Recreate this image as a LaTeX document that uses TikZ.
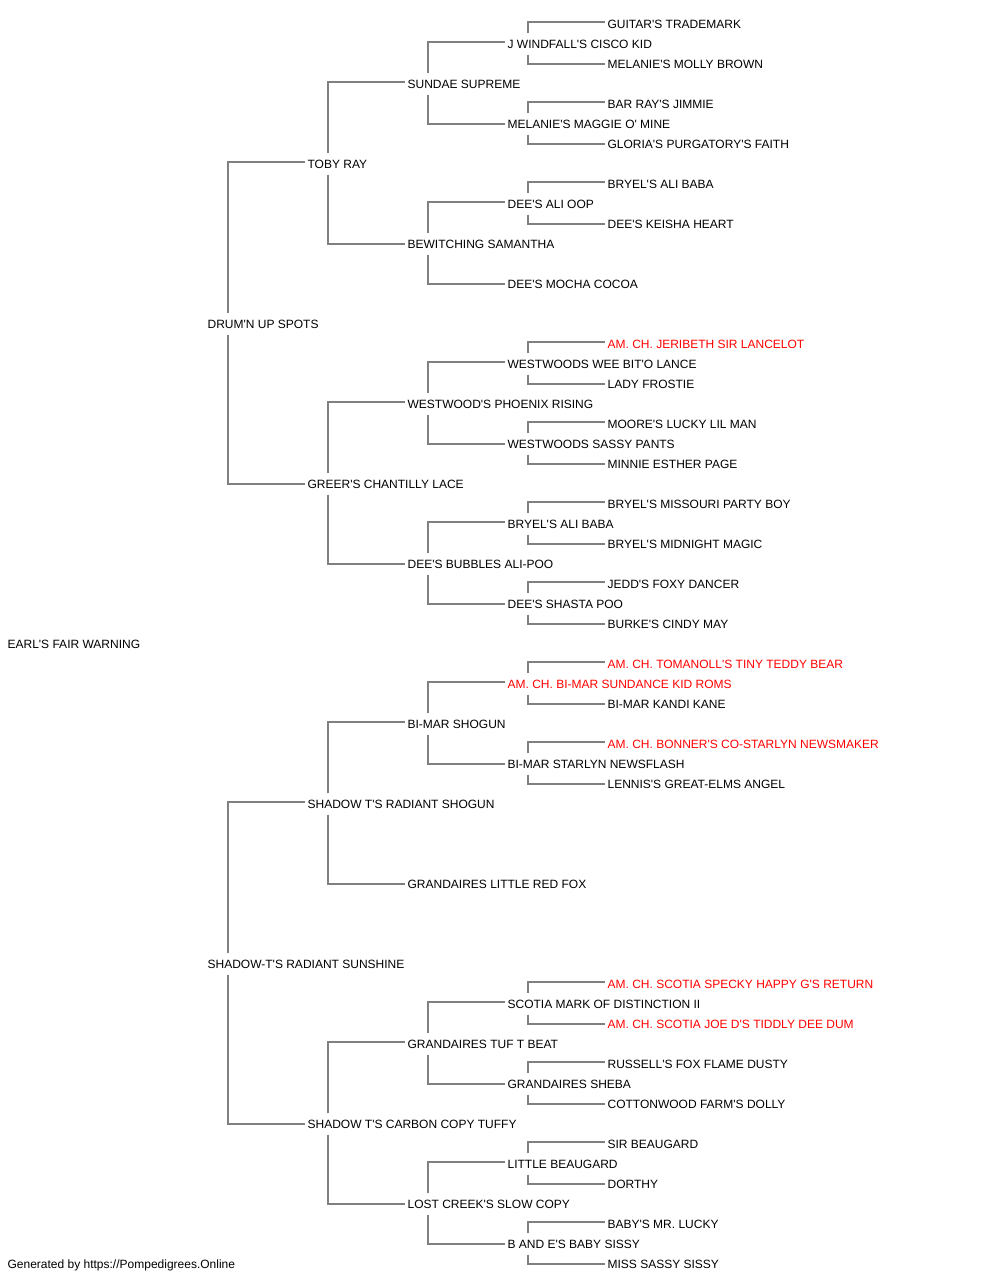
\documentclass[tikz,border=0pt]{standalone}
\usepackage{fontspec}
\setmainfont{Liberation Sans}[Ligatures=TeXOff]
\usetikzlibrary{calc}
\definecolor{linkgray}{RGB}{128,128,128}
\definecolor{chred}{RGB}{255,0,0}
\newcommand\pedup[2]{\draw[link] ($(#1.base west)+(19.9,-15.2)$) |- ($(#2.base west)+(-2.2,-6)$);}
\newcommand\peddn[2]{\draw[link] ($(#1.base west)+(19.9,6.3)$) |- ($(#2.base west)+(-2.2,-4.2)$);}
\begin{document}
\begin{tikzpicture}[x=1pt,y=-1pt,
  pedname/.style={anchor=base west,inner sep=0pt,outer sep=0pt,font=\fontsize{12}{14}\selectfont,text=black},
  champ/.style={pedname,text=chred},
  link/.style={draw=linkgray,line width=2pt}]
\useasboundingbox[fill=white] (0,0) rectangle (1000,1280);
% generation 0
\node[pedname] (n31) at (7.6,648.2) {EARL'S FAIR WARNING};
% generation 1
\node[pedname] (n15) at (207.6,328.2) {DRUM'N UP SPOTS};
\node[pedname] (n47) at (207.6,968.2) {SHADOW-T'S RADIANT SUNSHINE};
% generation 2
\node[pedname] (n7)  at (307.6,168.2) {TOBY RAY};
\node[pedname] (n23) at (307.6,488.2) {GREER'S CHANTILLY LACE};
\node[pedname] (n39) at (307.6,808.2) {SHADOW T'S RADIANT SHOGUN};
\node[pedname] (n55) at (307.6,1128.2) {SHADOW T'S CARBON COPY TUFFY};
% generation 3
\node[pedname] (n3)  at (407.6,88.2) {SUNDAE SUPREME};
\node[pedname] (n11) at (407.6,248.2) {BEWITCHING SAMANTHA};
\node[pedname] (n19) at (407.6,408.2) {WESTWOOD'S PHOENIX RISING};
\node[pedname] (n27) at (407.6,568.2) {DEE'S BUBBLES ALI-POO};
\node[pedname] (n35) at (407.6,728.2) {BI-MAR SHOGUN};
\node[pedname] (n43) at (407.6,888.2) {GRANDAIRES LITTLE RED FOX};
\node[pedname] (n51) at (407.6,1048.2) {GRANDAIRES TUF T BEAT};
\node[pedname] (n59) at (407.6,1208.2) {LOST CREEK'S SLOW COPY};
% generation 4
\node[pedname] (n1)  at (507.6,48.2) {J WINDFALL'S CISCO KID};
\node[pedname] (n5)  at (507.6,128.2) {MELANIE'S MAGGIE O' MINE};
\node[pedname] (n9)  at (507.6,208.2) {DEE'S ALI OOP};
\node[pedname] (n13) at (507.6,288.2) {DEE'S MOCHA COCOA};
\node[pedname] (n17) at (507.6,368.2) {WESTWOODS WEE BIT'O LANCE};
\node[pedname] (n21) at (507.6,448.2) {WESTWOODS SASSY PANTS};
\node[pedname] (n25) at (507.6,528.2) {BRYEL'S ALI BABA};
\node[pedname] (n29) at (507.6,608.2) {DEE'S SHASTA POO};
\node[champ] (n33) at (507.6,688.2) {AM. CH. BI-MAR SUNDANCE KID ROMS};
\node[pedname] (n37) at (507.6,768.2) {BI-MAR STARLYN NEWSFLASH};
\node[pedname] (n49) at (507.6,1008.2) {SCOTIA MARK OF DISTINCTION II};
\node[pedname] (n53) at (507.6,1088.2) {GRANDAIRES SHEBA};
\node[pedname] (n57) at (507.6,1168.2) {LITTLE BEAUGARD};
\node[pedname] (n61) at (507.6,1248.2) {B AND E'S BABY SISSY};
% generation 5
\node[pedname] (n0)  at (607.6,28.2) {GUITAR'S TRADEMARK};
\node[pedname] (n2)  at (607.6,68.2) {MELANIE'S MOLLY BROWN};
\node[pedname] (n4)  at (607.6,108.2) {BAR RAY'S JIMMIE};
\node[pedname] (n6)  at (607.6,148.2) {GLORIA'S PURGATORY'S FAITH};
\node[pedname] (n8)  at (607.6,188.2) {BRYEL'S ALI BABA};
\node[pedname] (n10) at (607.6,228.2) {DEE'S KEISHA HEART};
\node[champ] (n16) at (607.6,348.2) {AM. CH. JERIBETH SIR LANCELOT};
\node[pedname] (n18) at (607.6,388.2) {LADY FROSTIE};
\node[pedname] (n20) at (607.6,428.2) {MOORE'S LUCKY LIL MAN};
\node[pedname] (n22) at (607.6,468.2) {MINNIE ESTHER PAGE};
\node[pedname] (n24) at (607.6,508.2) {BRYEL'S MISSOURI PARTY BOY};
\node[pedname] (n26) at (607.6,548.2) {BRYEL'S MIDNIGHT MAGIC};
\node[pedname] (n28) at (607.6,588.2) {JEDD'S FOXY DANCER};
\node[pedname] (n30) at (607.6,628.2) {BURKE'S CINDY MAY};
\node[champ] (n32) at (607.6,668.2) {AM. CH. TOMANOLL'S TINY TEDDY BEAR};
\node[pedname] (n34) at (607.6,708.2) {BI-MAR KANDI KANE};
\node[champ] (n36) at (607.6,748.2) {AM. CH. BONNER'S CO-STARLYN NEWSMAKER};
\node[pedname] (n38) at (607.6,788.2) {LENNIS'S GREAT-ELMS ANGEL};
\node[champ] (n48) at (607.6,988.2) {AM. CH. SCOTIA SPECKY HAPPY G'S RETURN};
\node[champ] (n50) at (607.6,1028.2) {AM. CH. SCOTIA JOE D'S TIDDLY DEE DUM};
\node[pedname] (n52) at (607.6,1068.2) {RUSSELL'S FOX FLAME DUSTY};
\node[pedname] (n54) at (607.6,1108.2) {COTTONWOOD FARM'S DOLLY};
\node[pedname] (n56) at (607.6,1148.2) {SIR BEAUGARD};
\node[pedname] (n58) at (607.6,1188.2) {DORTHY};
\node[pedname] (n60) at (607.6,1228.2) {BABY'S MR. LUCKY};
\node[pedname] (n62) at (607.6,1268.2) {MISS SASSY SISSY};
% footer
\node[pedname] (foot) at (7.6,1268.2) {Generated by https://Pompedigrees.Online};
% connectors
\foreach \p/\a/\b in {15/7/23, 47/39/55,
  7/3/11, 23/19/27, 39/35/43, 55/51/59,
  3/1/5, 11/9/13, 19/17/21, 27/25/29, 35/33/37, 51/49/53, 59/57/61,
  1/0/2, 5/4/6, 9/8/10, 17/16/18, 21/20/22, 25/24/26, 29/28/30,
  33/32/34, 37/36/38, 49/48/50, 53/52/54, 57/56/58, 61/60/62}
  {\pedup{n\p}{n\a}\peddn{n\p}{n\b}}
\end{tikzpicture}
\end{document}
